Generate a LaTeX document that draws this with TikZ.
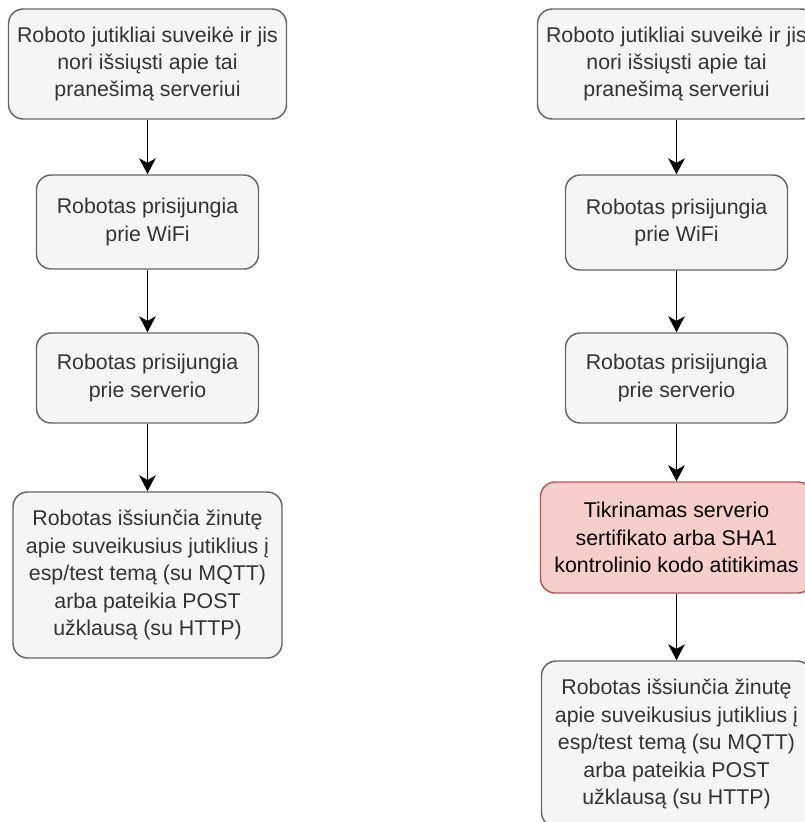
\documentclass[tikz,border=0pt]{standalone}
\usepackage{fontspec}
\setmainfont{Liberation Sans}
\usetikzlibrary{arrows.meta}
\definecolor{boxfill}{HTML}{F5F5F5}
\definecolor{boxline}{HTML}{666666}
\definecolor{boxtext}{HTML}{333333}
\definecolor{alertfill}{HTML}{F8CECC}
\definecolor{alertline}{HTML}{B85450}
\begin{document}
\begin{tikzpicture}[x=0.75pt,y=-0.75pt,
  stepbox/.style={draw=boxline, fill=boxfill, text=boxtext, rounded corners=11pt,
    line width=1.1pt, align=center, inner sep=0pt,
    font=\fontsize{16}{20.6}\selectfont},
  alertbox/.style={stepbox, draw=alertline, fill=alertfill, text=black},
  flow/.style={-{Stealth[length=12pt,width=12.5pt,inset=3.5pt]}, line width=1.1pt, black}]
\useasboundingbox (0,0) rectangle (805,822);
\clip (0,0) rectangle (805,822);

% left flow: plain sequence
\node[stepbox, minimum width=208.5pt, minimum height=82.5pt] (l1) at (147.5,64)
  {Roboto jutikliai suveikė ir jis\\nori išsiųsti apie tai\\pranešimą serveriui};
\node[stepbox, minimum width=166.5pt, minimum height=70.5pt] (l2) at (147.5,222)
  {Robotas prisijungia\\prie WiFi};
\node[stepbox, minimum width=166.5pt, minimum height=67.5pt] (l3) at (147.5,378)
  {Robotas prisijungia\\prie serverio};
\node[stepbox, minimum width=201.75pt, minimum height=124.5pt] (l4) at (147.5,575)
  {Robotas išsiunčia žinutę\\apie suveikusius jutiklius į\\esp/test temą (su MQTT)\\arba pateikia POST\\užklausą (su HTTP)};

\draw[flow] (l1) -- (l2);
\draw[flow] (l2) -- (l3);
\draw[flow] (l3) -- (l4);

% right flow: with certificate check
\node[stepbox, minimum width=208.5pt, minimum height=82.5pt] (r1) at (676.5,64)
  {Roboto jutikliai suveikė ir jis\\nori išsiųsti apie tai\\pranešimą serveriui};
\node[stepbox, minimum width=166.5pt, minimum height=71.25pt] (r2) at (676.5,222.5)
  {Robotas prisijungia\\prie WiFi};
\node[stepbox, minimum width=166.5pt, minimum height=67.5pt] (r3) at (676.5,378)
  {Robotas prisijungia\\prie serverio};
\node[alertbox, minimum width=204pt, minimum height=83.25pt] (r4) at (676.5,537.5)
  {Tikrinamas serverio\\sertifikato arba SHA1\\kontrolinio kodo atitikimas};
\node[stepbox, minimum width=202.5pt, minimum height=124.5pt] (r5) at (676.5,744)
  {Robotas išsiunčia žinutę\\apie suveikusius jutiklius į\\esp/test temą (su MQTT)\\arba pateikia POST\\užklausą (su HTTP)};

\draw[flow] (r1) -- (r2);
\draw[flow] (r2) -- (r3);
\draw[flow] (r3) -- (r4);
\draw[flow] (r4) -- (r5);
\end{tikzpicture}
\end{document}
